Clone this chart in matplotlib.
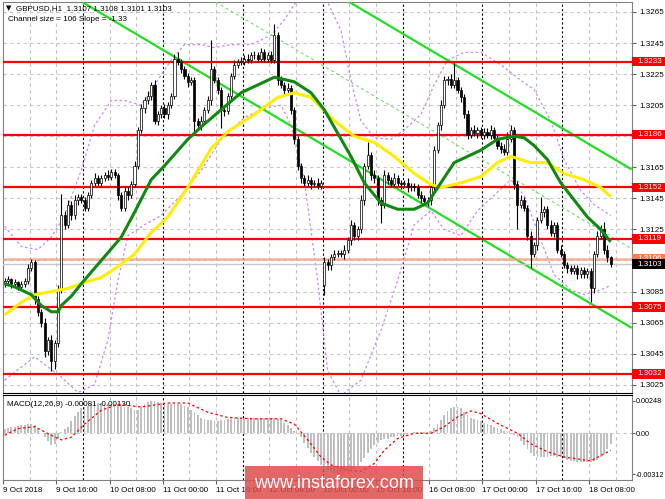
import matplotlib
matplotlib.use("Agg")
import matplotlib.pyplot as plt
from matplotlib.transforms import blended_transform_factory
from matplotlib.patches import Rectangle

plt.rcParams['font.family'] = ['Liberation Sans', 'DejaVu Sans']

# GBPUSD H1 closes, 9 Oct 2018 00:00 .. 18 Oct 2018 14:00
closes = [
    1.3092, 1.3093, 1.3090, 1.3091, 1.3088, 1.3090, 1.3092, 1.3100, 1.3104, 1.3080, 1.3072, 1.3065,
    1.3047, 1.3054, 1.3040, 1.3052, 1.3086, 1.3134, 1.3128, 1.3141, 1.3134, 1.3144, 1.3146, 1.3144,
    1.3139, 1.3147, 1.3155, 1.3158, 1.3155, 1.3158, 1.3160, 1.3159, 1.3162, 1.3160, 1.3147, 1.3139,
    1.3150, 1.3147, 1.3154, 1.3166, 1.3189, 1.3203, 1.3208, 1.3211, 1.3218, 1.3195, 1.3199, 1.3203,
    1.3199, 1.3205, 1.3211, 1.3235, 1.3233, 1.3228, 1.3224, 1.3220, 1.3221, 1.3195, 1.3192, 1.3195,
    1.3202, 1.3208, 1.3228, 1.3221, 1.3215, 1.3202, 1.3201, 1.3211, 1.3224, 1.3231, 1.3233, 1.3233,
    1.3235, 1.3234, 1.3237, 1.3237, 1.3235, 1.3239, 1.3235, 1.3237, 1.3234, 1.3250, 1.3221, 1.3218,
    1.3215, 1.3216, 1.3202, 1.3183, 1.3166, 1.3158, 1.3155, 1.3157, 1.3154, 1.3155, 1.3153, 1.3155,
    1.3104, 1.3102, 1.3107, 1.3109, 1.3110, 1.3109, 1.3112, 1.3118, 1.3128, 1.3121, 1.3125, 1.3144,
    1.3166, 1.3173, 1.3160, 1.3158, 1.3144, 1.3141, 1.3160, 1.3157, 1.3154, 1.3158, 1.3155, 1.3154,
    1.3155, 1.3152, 1.3153, 1.3152, 1.3147, 1.3145, 1.3143, 1.3144, 1.3152, 1.3176, 1.3192, 1.3205,
    1.3221, 1.3222, 1.3218, 1.3221, 1.3215, 1.3210, 1.3199, 1.3186, 1.3189, 1.3187, 1.3189, 1.3186,
    1.3188, 1.3186, 1.3189, 1.3184, 1.3179, 1.3177, 1.3175, 1.3183, 1.3189, 1.3154, 1.3141, 1.3144,
    1.3139, 1.3121, 1.3109, 1.3115, 1.3131, 1.3136, 1.3138, 1.3128, 1.3123, 1.3128, 1.3112, 1.3109,
    1.3102, 1.3100, 1.3098, 1.3100, 1.3096, 1.3099, 1.3096, 1.3098, 1.3087, 1.3109, 1.3121, 1.3125,
    1.3112, 1.3107, 1.3103,
]
first_open = 1.3090
gap_bar = 96          # Monday 15 Oct 00:00 opens with a gap
gap_open = 1.3089

# wick lengths in pips above / below the body
upper_wick = [
    2, 2, 1, 2, 1, 2, 2, 3, 2, 1, 2, 2, 3, 2, 3, 2, 3, 14, 3, 3, 2, 3, 2, 2,
    2, 2, 2, 3, 2, 2, 2, 3, 2, 2, 1, 2, 3, 2, 2, 3, 2, 3, 2, 3, 2, 3, 2, 2,
    3, 2, 2, 3, 4, 2, 2, 2, 2, 2, 2, 3, 2, 3, 19, 2, 2, 2, 3, 2, 2, 3, 2, 3,
    2, 3, 2, 3, 2, 3, 2, 2, 3, 7, 2, 3, 2, 3, 2, 2, 2, 2, 2, 3, 2, 2, 3, 2,
    3, 2, 2, 3, 2, 2, 3, 2, 3, 2, 2, 3, 2, 8, 2, 3, 2, 2, 3, 2, 2, 3, 2, 2,
    2, 3, 2, 2, 2, 3, 2, 2, 2, 3, 2, 3, 3, 2, 3, 11, 2, 2, 2, 3, 2, 3, 2, 2,
    2, 2, 3, 2, 2, 2, 3, 5, 3, 2, 2, 3, 2, 2, 3, 2, 2, 10, 2, 2, 3, 2, 2, 3,
    2, 2, 2, 2, 2, 2, 2, 2, 2, 2, 3, 3, 5, 3, 1,
]
lower_wick = [
    2, 2, 3, 2, 2, 2, 2, 2, 2, 3, 3, 3, 4, 3, 6, 5, 3, 2, 3, 2, 3, 2, 3, 2,
    2, 2, 2, 2, 2, 3, 2, 2, 2, 2, 3, 2, 2, 3, 2, 2, 2, 2, 3, 2, 3, 2, 3, 2,
    2, 3, 2, 2, 2, 2, 2, 3, 2, 7, 2, 3, 2, 2, 3, 2, 3, 12, 3, 2, 2, 2, 2, 2,
    2, 2, 2, 2, 2, 2, 2, 2, 2, 2, 3, 2, 3, 2, 3, 3, 3, 3, 2, 2, 3, 2, 2, 2,
    6, 3, 3, 2, 2, 2, 3, 2, 3, 3, 3, 2, 3, 2, 3, 3, 3, 12, 2, 3, 2, 2, 2, 3,
    2, 3, 2, 2, 2, 3, 2, 3, 3, 2, 2, 3, 2, 3, 2, 2, 2, 3, 2, 3, 2, 2, 3, 2,
    3, 2, 3, 2, 2, 3, 2, 2, 2, 3, 16, 2, 2, 3, 9, 2, 3, 2, 3, 3, 2, 3, 2, 2,
    2, 3, 2, 2, 3, 2, 2, 2, 9, 3, 2, 2, 3, 3, 2,
]

# moving averages (bar index, price)
fast_ma_bars = [0, 3, 8, 11, 14, 16, 17, 20, 23, 29, 35, 39, 44, 48, 55, 59, 65, 71, 77, 81, 87, 92,
                96, 100, 104, 108, 113, 118, 123, 127, 131, 135, 138, 143, 148, 153, 156, 159, 163,
                167, 171, 175, 179, 182]
fast_ma = [1.3090, 1.3088, 1.3083, 1.3076, 1.3072, 1.3072, 1.3076, 1.3082, 1.3090, 1.3105, 1.3120,
           1.3136, 1.3157, 1.3166, 1.3183, 1.3191, 1.3202, 1.3213, 1.3219, 1.3223, 1.3220, 1.3213,
           1.3202, 1.3187, 1.3172, 1.3155, 1.3142, 1.3138, 1.3138, 1.3142, 1.3155, 1.3168, 1.3171,
           1.3176, 1.3183, 1.3185, 1.3184, 1.3179, 1.3170, 1.3155, 1.3144, 1.3133, 1.3125, 1.3117]
slow_ma_bars = [0, 5, 9, 14, 19, 24, 29, 34, 39, 44, 49, 55, 62, 67, 75, 82, 87, 92, 99, 105, 111,
                117, 123, 128, 131, 137, 143, 148, 152, 158, 163, 168, 174, 179, 182]
slow_ma = [1.3070, 1.3078, 1.3083, 1.3085, 1.3087, 1.3091, 1.3094, 1.3101, 1.3109, 1.3123, 1.3133,
           1.3152, 1.3177, 1.3188, 1.3199, 1.3210, 1.3213, 1.3210, 1.3195, 1.3185, 1.3181, 1.3172,
           1.3161, 1.3154, 1.3152, 1.3155, 1.3159, 1.3168, 1.3172, 1.3168, 1.3168, 1.3161, 1.3157,
           1.3152, 1.3146]

# envelope bands (purple dotted)
band_up_bars = [0, 5, 10, 14, 18, 23, 27, 32, 36, 41, 45, 50, 54, 59, 63, 68, 74, 80, 84, 87, 92,
                96, 101, 104, 107, 111, 116, 120, 125, 129, 133, 138, 143, 149, 155, 159, 164, 168,
                173, 177, 182]
band_up = [1.3127, 1.3114, 1.3112, 1.3120, 1.3134, 1.3163, 1.3192, 1.3208, 1.3208, 1.3205, 1.3218,
           1.3234, 1.3244, 1.3244, 1.3242, 1.3244, 1.3244, 1.3250, 1.3260, 1.3270, 1.3279, 1.3276,
           1.3253, 1.3221, 1.3195, 1.3184, 1.3183, 1.3189, 1.3199, 1.3218, 1.3234, 1.3239, 1.3239,
           1.3231, 1.3221, 1.3215, 1.3195, 1.3170, 1.3150, 1.3141, 1.3134]
band_lo_bars = [0, 9, 17, 22, 27, 31, 34, 37, 42, 47, 53, 59, 65, 72, 78, 83, 86, 90, 94, 97, 101,
                107, 113, 118, 123, 128, 132, 137, 142, 147, 152, 156, 161, 165, 170, 174, 179, 182]
band_lo = [1.3028, 1.3043, 1.3030, 1.3020, 1.3025, 1.3054, 1.3092, 1.3121, 1.3128, 1.3134, 1.3147,
           1.3163, 1.3183, 1.3197, 1.3203, 1.3205, 1.3192, 1.3157, 1.3092, 1.3034, 1.3018, 1.3028,
           1.3060, 1.3092, 1.3128, 1.3137, 1.3125, 1.3121, 1.3137, 1.3147, 1.3157, 1.3147, 1.3118,
           1.3096, 1.3086, 1.3083, 1.3086, 1.3089]

# regression channel anchors
channel_bars = [0, 188]
channel_upper = [1.3403, 1.3164]
channel_mid = [1.3352, 1.3113]
channel_lower = [1.3301, 1.3062]

levels = [1.3233, 1.3186, 1.3152, 1.3119, 1.3075, 1.3032]
ask_line = 1.3106
bid_line = 1.3103
grid_prices = [1.3265, 1.3245, 1.3225, 1.3205, 1.3185, 1.3165, 1.3145, 1.3125, 1.3105,
               1.3085, 1.3065, 1.3045, 1.3025]
hidden_ticks = [1.3185, 1.3105]

time_bars = [0, 16, 32, 48, 64, 80, 96, 112, 128, 144, 160, 176]
time_labels = ['9 Oct 2018', '9 Oct 16:00', '10 Oct 08:00', '11 Oct 00:00', '11 Oct 16:00',
               '12 Oct 08:00', '15 Oct 00:00', '15 Oct 16:00', '16 Oct 08:00', '17 Oct 00:00',
               '17 Oct 16:00', '18 Oct 08:00']
day_bars = [24, 48, 72, 96, 120, 144, 168]

# MACD(12,26,9) main line per bar
macd_hist = [
    0.00036, 0.00040, 0.00045, 0.00050, 0.00055, 0.00060, 0.00065, 0.00070, 0.00070, 0.00060,
    0.00030, 0.00005, -0.00030, -0.00060, -0.00090, -0.00080, -0.00040, 0.00010, 0.00030, 0.00050,
    0.00090, 0.00130, 0.00160, 0.00190, 0.00200, 0.00210, 0.00220, 0.00230, 0.00230, 0.00230,
    0.00220, 0.00220, 0.00220, 0.00220, 0.00220, 0.00210, 0.00200, 0.00200, 0.00190, 0.00180,
    0.00180, 0.00200, 0.00220, 0.00240, 0.00248, 0.00248, 0.00240, 0.00230, 0.00220, 0.00220,
    0.00220, 0.00220, 0.00220, 0.00220, 0.00210, 0.00200, 0.00180, 0.00160, 0.00140, 0.00120,
    0.00110, 0.00100, 0.00100, 0.00090, 0.00090, 0.00100, 0.00100, 0.00110, 0.00110, 0.00120,
    0.00120, 0.00120, 0.00120, 0.00120, 0.00120, 0.00120, 0.00120, 0.00120, 0.00120, 0.00120,
    0.00120, 0.00120, 0.00110, 0.00100, 0.00080, 0.00060, 0.00040, 0.00020, 0.00000, -0.00030,
    -0.00070, -0.00110, -0.00150, -0.00180, -0.00210, -0.00240, -0.00260, -0.00280, -0.00290,
    -0.00300, -0.00310, -0.00312, -0.00312, -0.00300, -0.00290, -0.00270, -0.00250, -0.00220,
    -0.00190, -0.00150, -0.00120, -0.00090, -0.00070, -0.00050, -0.00040, -0.00040, -0.00030,
    -0.00030, -0.00020, -0.00020, -0.00010, -0.00010, 0.00000, 0.00010, 0.00010, 0.00010,
    0.00010, 0.00010, 0.00020, 0.00040, 0.00070, 0.00100, 0.00140, 0.00170, 0.00190, 0.00200,
    0.00200, 0.00190, 0.00160, 0.00140, 0.00120, 0.00110, 0.00100, 0.00090, 0.00080, 0.00070,
    0.00060, 0.00050, 0.00040, 0.00030, 0.00020, 0.00010, 0.00000, -0.00010, -0.00030, -0.00060,
    -0.00090, -0.00120, -0.00150, -0.00170, -0.00180, -0.00180, -0.00180, -0.00180, -0.00170,
    -0.00170, -0.00180, -0.00180, -0.00190, -0.00200, -0.00210, -0.00210, -0.00220, -0.00220,
    -0.00220, -0.00220, -0.00220, -0.00210, -0.00200, -0.00180, -0.00160, -0.00120, -0.00081,
]
signal_bars = [0, 4, 9, 14, 17, 20, 24, 29, 34, 41, 49, 55, 61, 67, 75, 83, 87, 91, 95, 98, 103,
               107, 111, 114, 118, 123, 128, 132, 136, 140, 143, 148, 154, 158, 163, 168, 176, 182]
signal_vals = [-0.00015, 0.00036, 0.00050, -0.00015, -0.00050, -0.00030, 0.00070, 0.00175,
               0.00220, 0.00200, 0.00230, 0.00230, 0.00160, 0.00120, 0.00110, 0.00110, 0.00070,
               -0.00050, -0.00180, -0.00240, -0.00280, -0.00290, -0.00230, -0.00130, -0.00040,
               0.00000, 0.00000, 0.00050, 0.00125, 0.00170, 0.00150, 0.00075, 0.00000, -0.00080,
               -0.00140, -0.00180, -0.00210, -0.00130]

FS = 5.8
W, H = 665, 499
fig = plt.figure(figsize=(W / 100, H / 100), dpi=100)
ax = fig.add_axes([3 / W, (H - 393) / H, 629 / W, 391 / H])
ax2 = fig.add_axes([3 / W, (H - 480) / H, 629 / W, 85 / H])

xmin, xmax = -0.5, 188.4
for a in (ax, ax2):
    a.set_xlim(xmin, xmax)
    for k in range(8, 189, 8):
        if k in day_bars:
            a.axvline(k - 0.5, color='black', lw=0.8, ls=(0, (2, 2)), zorder=1)
        else:
            a.axvline(k - 0.5, color='#c0c0c0', lw=0.8, ls=(0, (3, 3)), zorder=1)
    for s in a.spines.values():
        s.set_color('#808080')

ax.set_ylim(1.30197, 1.32714)
ax2.set_ylim(-0.00355, 0.00291)

# horizontal grid
for p in grid_prices:
    ax.axhline(p, color='#c8c8c8', lw=0.8, ls=(0, (3, 3)), zorder=1)
ax2.axhline(0, color='#c8c8c8', lw=0.8, ls=(0, (3, 3)), zorder=1)

# channel
ax.plot(channel_bars, channel_upper, color='#22dd22', lw=1.6, zorder=3)
ax.plot(channel_bars, channel_lower, color='#22dd22', lw=1.6, zorder=3)
ax.plot(channel_bars, channel_mid, color='#55dd55', lw=0.7, ls=(0, (3, 3)), zorder=3)

# bands
ax.plot(band_up_bars, band_up, color='#cc88ee', lw=0.9, ls=(0, (2, 2)), zorder=2)
ax.plot(band_lo_bars, band_lo, color='#cc88ee', lw=0.9, ls=(0, (2, 2)), zorder=2)

# support / resistance
for lv in levels:
    ax.axhline(lv, color='#ff0000', lw=1.6, zorder=4)
ax.axhline(ask_line, color='#f4a080', lw=1.8, alpha=0.8, zorder=4)
ax.axhline(bid_line, color='#c8c8c8', lw=1.0, zorder=4)

# candles
opens = [first_open] + closes[:-1]
opens[gap_bar] = gap_open
for i, (o, c) in enumerate(zip(opens, closes)):
    top, bot = max(o, c), min(o, c)
    ax.vlines(i, bot - lower_wick[i] * 1e-4, top + upper_wick[i] * 1e-4, color='black', lw=0.8, zorder=5)
    h = max(top - bot, 0.00004)
    fc = 'white' if c >= o else 'black'
    ax.bar(i, h, bottom=bot, width=0.62, color=fc, edgecolor='black', linewidth=0.5, zorder=6)

# moving averages
ax.plot(slow_ma_bars, slow_ma, color='#ffee00', lw=2.2, zorder=7, solid_capstyle='butt')
ax.plot(fast_ma_bars, fast_ma, color='#118811', lw=2.2, zorder=7, solid_capstyle='butt')

# right axis labels
ax.yaxis.tick_right()
ax.set_yticks(grid_prices)
ax.set_yticklabels(['' if p in hidden_ticks else f'{p:.4f}' for p in grid_prices])
ax.tick_params(axis='y', labelsize=FS, length=3, pad=2, color='#606060')
ax.set_xticks([])

tr = blended_transform_factory(ax.transAxes, ax.transData)
box_w = 33 / 629
box_h = 0.00062


def price_tag(value, bg, fg, z, shift=0.0):
    ax.add_patch(Rectangle((1.0, value + shift - box_h / 2), box_w, box_h, transform=tr,
                           fc=bg, ec='none', clip_on=False, zorder=z))
    ax.text(1.0 + 5 / 629, value + shift, f'{value:.4f}', transform=tr, ha='left', va='center',
            fontsize=FS, color=fg, clip_on=False, zorder=z + 0.5)


for lv in levels:
    price_tag(lv, '#ff0000', 'white', 10)
price_tag(ask_line, '#f08050', 'white', 10)
price_tag(bid_line, 'black', 'white', 12, shift=-0.00003)

ax.text(0.004, 0.992, '\u25bc', transform=ax.transAxes, fontsize=5, va='top', ha='left',
        family='DejaVu Sans')
ax.text(0.02, 0.993, 'GBPUSD,H1  1.3107 1.3108 1.3101 1.3103', transform=ax.transAxes,
        fontsize=FS, va='top', ha='left')
ax.text(0.008, 0.963, 'Channel size = 106 Slope = -1.33', transform=ax.transAxes,
        fontsize=FS, va='top', ha='left')

# MACD panel
bar_x = list(range(len(macd_hist)))
ax2.bar(bar_x, macd_hist, width=0.55, color='#c0c0c0', zorder=3)
ax2.plot(signal_bars, signal_vals, color='red', lw=0.9, ls=(0, (2, 2)), zorder=4)
ax2.text(0.006, 0.93, 'MACD(12,26,9) -0.00081 -0.00130', transform=ax2.transAxes,
         fontsize=FS, va='top', ha='left')
ax2.yaxis.tick_right()
ax2.set_yticks([0.00248, 0.0, -0.00312])
ax2.set_yticklabels(['0.00248', '0.00', '-0.00312'])
ax2.tick_params(axis='y', labelsize=5.2, length=2, pad=1, color='#606060')
ax2.set_xticks([b - 0.5 for b in time_bars])
ax2.set_xticklabels(time_labels, ha='left')
ax2.tick_params(axis='x', labelsize=FS, length=3, pad=2, color='#606060')
ax2.spines['top'].set_color('black')
ax.spines['bottom'].set_color('black')

# watermark
fig.patches.append(Rectangle((245 / W, 0), 178 / W, 33 / H, transform=fig.transFigure,
                             fc='#dd4c4c', ec='none', alpha=0.85, zorder=20))
fig.text(334 / W, 16 / H, 'www.instaforex.com', color='white', fontsize=13,
         ha='center', va='center', zorder=21)

fig.savefig('out.png', dpi=100)
